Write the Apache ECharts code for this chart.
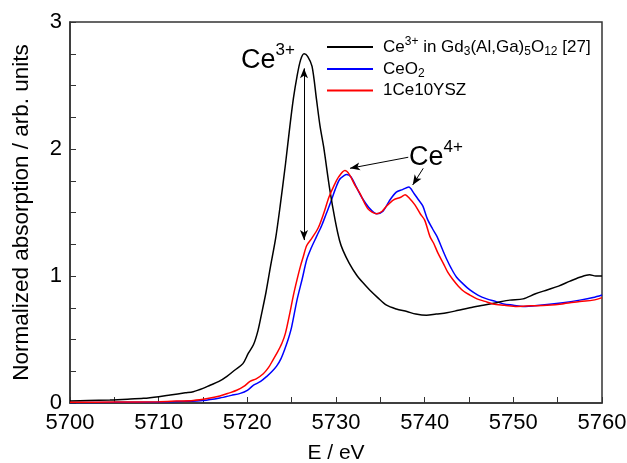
<!DOCTYPE html>
<html>
<head>
<meta charset="utf-8">
<script src="https://cdn.jsdelivr.net/npm/echarts@6/dist/echarts.min.js"></script>
<style>html,body{margin:0;padding:0;background:#fff}#c{width:627px;height:463px}</style>
</head>
<body>
<div id="c"></div>
<script>
// Ce3+ in Gd3(Al,Ga)5O12 [27]
var xBlack = [5700.0,5702,5704.5,5706.5,5708.3,5710,5711.3,5713,5713.9,5715.0,5715.8,5716.8,5717.7,5718.6,5719.5,5720.1,5720.7,5721.2,5721.6,5722.1,5722.6,5723.2,5723.7,5724.3,5724.8,5725.2,5725.6,5726.0,5726.4,5726.8,5727.3,5727.8,5728.2,5728.6,5729.3,5729.9,5730.4,5730.8,5731.5,5732.3,5733.0,5733.8,5734.7,5735.7,5736.8,5738.0,5739.0,5740.2,5741.3,5742.5,5743.8,5745.1,5746.6,5748.1,5749.6,5751.1,5752.5,5753.8,5755.1,5756.4,5757.5,5758.6,5759.3,5760];
var yBlack = [0.015,0.02,0.024,0.03,0.037,0.05,0.063,0.08,0.089,0.115,0.14,0.17,0.21,0.26,0.31,0.39,0.46,0.57,0.70,0.87,1.07,1.30,1.55,1.88,2.18,2.40,2.57,2.70,2.75,2.73,2.65,2.39,2.18,2.02,1.68,1.44,1.28,1.20,1.10,1.01,0.95,0.89,0.83,0.77,0.74,0.72,0.70,0.69,0.70,0.71,0.73,0.75,0.77,0.79,0.81,0.82,0.86,0.89,0.92,0.96,0.99,1.01,1.00,1.00];
// CeO2
var xBlue = [5700,5705,5710,5713,5715,5716.9,5718.2,5719.2,5720.0,5720.7,5721.5,5722.2,5722.8,5723.3,5723.8,5724.2,5724.6,5725.0,5725.6,5726.2,5726.7,5727.2,5727.8,5728.4,5728.9,5729.4,5729.9,5730.4,5730.9,5731.2,5731.7,5732.3,5732.9,5733.7,5734.6,5735.3,5736.0,5736.8,5737.5,5738.2,5738.8,5739.3,5739.8,5740.3,5740.9,5741.4,5742.0,5742.5,5743.0,5743.6,5744.3,5745.1,5746.0,5747.0,5748.0,5748.9,5750.0,5751.1,5753.0,5755.6,5757.5,5759.0,5760];
var yBlue = [0.003,0.005,0.008,0.013,0.02,0.04,0.06,0.076,0.10,0.14,0.17,0.21,0.25,0.29,0.35,0.42,0.50,0.60,0.81,0.98,1.13,1.22,1.31,1.40,1.49,1.58,1.68,1.76,1.79,1.80,1.78,1.70,1.62,1.54,1.49,1.51,1.59,1.66,1.68,1.70,1.65,1.60,1.55,1.45,1.37,1.31,1.21,1.13,1.06,0.99,0.94,0.89,0.85,0.82,0.80,0.78,0.77,0.76,0.77,0.79,0.81,0.83,0.85];
// 1Ce10YSZ
var xRed = [5700,5705,5710.1,5712,5713.9,5715.5,5716.9,5718.0,5718.8,5719.6,5720.3,5721.0,5721.8,5722.4,5722.9,5723.4,5723.9,5724.3,5724.8,5725.2,5725.6,5726.0,5726.3,5726.7,5727.3,5728.0,5728.6,5729.2,5729.7,5730.3,5731.0,5731.5,5732.1,5732.7,5733.6,5734.6,5735.2,5735.7,5736.5,5737.3,5737.8,5738.3,5738.9,5739.5,5740.0,5740.6,5741.0,5741.5,5742.1,5742.6,5743.2,5743.8,5744.4,5745.1,5745.9,5746.8,5747.7,5749.0,5750.4,5752.0,5753.8,5755.5,5757.5,5759.0,5760];
var yRed = [0.005,0.007,0.01,0.015,0.02,0.035,0.055,0.08,0.10,0.13,0.17,0.19,0.23,0.28,0.34,0.40,0.47,0.55,0.71,0.85,0.97,1.08,1.15,1.24,1.30,1.38,1.49,1.62,1.70,1.78,1.83,1.80,1.72,1.65,1.53,1.49,1.51,1.55,1.60,1.62,1.64,1.61,1.56,1.49,1.44,1.31,1.26,1.18,1.10,1.03,0.97,0.92,0.88,0.85,0.82,0.80,0.78,0.77,0.76,0.765,0.77,0.78,0.80,0.81,0.83];

var seriesNames = ['Ce3+ in Gd3(Al,Ga)5O12 [27]', 'CeO2', '1Ce10YSZ'];
var xTicks = [5700, 5710, 5720, 5730, 5740, 5750, 5760];
var yTicks = [0, 1, 2, 3];

function pairs(xs, ys) { return xs.map(function (x, i) { return [x, ys[i]]; }); }

var FONT = 'Liberation Sans, Arial, sans-serif';
var chart = echarts.init(document.getElementById('c'), null, {renderer: 'canvas'});

var legendRich = {
  a: {fontSize: 17, fontFamily: FONT, color: '#000', lineHeight: 22, verticalAlign: 'middle'},
  sup: {fontSize: 12, fontFamily: FONT, color: '#000', lineHeight: 22, verticalAlign: 'top', padding: [0, 0, 10, 0]},
  sub: {fontSize: 12, fontFamily: FONT, color: '#000', lineHeight: 22, verticalAlign: 'bottom', padding: [8, 0, 0, 0]}
};
var legendLabels = {};
legendLabels[seriesNames[0]] = '{a|Ce}{sup|3+}{a| in Gd}{sub|3}{a|(Al,Ga)}{sub|5}{a|O}{sub|12}{a| [27]}';
legendLabels[seriesNames[1]] = '{a|CeO}{sub|2}';
legendLabels[seriesNames[2]] = '{a|1Ce10YSZ}';

var arrowLine = {color: '#000', width: 1, type: 'solid'};

chart.setOption({
  animation: false,
  backgroundColor: '#fff',
  textStyle: {fontFamily: FONT},
  grid: {left: 70, right: 25, top: 22, bottom: 60, show: true, borderColor: '#333', borderWidth: 1.5,
         containLabel: false, outerBoundsMode: 'none'},
  legend: {
    data: seriesNames,
    orient: 'vertical',
    left: 327,
    top: 36,
    padding: 0,
    icon: 'rect',
    itemWidth: 46,
    itemHeight: 2,
    itemGap: 2,
    formatter: function (n) { return legendLabels[n]; },
    textStyle: {rich: legendRich, padding: [0, 0, 0, 5]}
  },
  xAxis: {
    type: 'value', min: 5700, max: 5760, interval: 10,
    name: 'E / eV', nameLocation: 'middle', nameGap: 40,
    nameTextStyle: {fontSize: 21, color: '#000', fontFamily: FONT},
    axisLine: {show: true, lineStyle: {color: '#333', width: 1.5}},
    axisTick: {show: true, inside: true, length: 6, lineStyle: {color: '#333'}},
    minorTick: {show: true, splitNumber: 2, length: 6, lineStyle: {color: '#333'}},
    axisLabel: {fontSize: 22, color: '#000', margin: 9, fontFamily: FONT,
      formatter: function (v) { return xTicks.indexOf(v) >= 0 ? String(v) : ''; }},
    splitLine: {show: false}
  },
  yAxis: {
    type: 'value', min: 0, max: 3, interval: 1,
    name: 'Normalized absorption / arb. units', nameLocation: 'middle', nameGap: 37,
    nameTextStyle: {fontSize: 22.5, color: '#000', fontFamily: FONT},
    axisLine: {show: true, lineStyle: {color: '#333', width: 1.5}},
    axisTick: {show: true, inside: true, length: 6, lineStyle: {color: '#333'}},
    minorTick: {show: true, splitNumber: 4, length: 6, lineStyle: {color: '#333'}},
    axisLabel: {fontSize: 22, color: '#000', margin: 8, fontFamily: FONT,
      formatter: function (v) { return yTicks.indexOf(v) >= 0 ? String(v) : ''; }},
    splitLine: {show: false}
  },
  series: [
    {
      name: seriesNames[0], type: 'line', data: pairs(xBlack, yBlack), symbol: 'none', smooth: 0.3,
      lineStyle: {color: '#000', width: 1.5}, itemStyle: {color: '#000'}, z: 3,
      markLine: {
        silent: true, symbol: ['arrow', 'arrow'], symbolSize: [6, 10], label: {show: false},
        lineStyle: arrowLine,
        data: [[{coord: [5726.39, 2.635]}, {coord: [5726.39, 1.283]}]]
      }
    },
    {
      name: seriesNames[1], type: 'line', data: pairs(xBlue, yBlue), symbol: 'none', smooth: 0.3,
      lineStyle: {color: '#0000ff', width: 1.5}, itemStyle: {color: '#0000ff'}, z: 2,
      markLine: {
        silent: true, symbol: ['none', 'arrow'], symbolSize: [6, 10], label: {show: false},
        lineStyle: arrowLine,
        data: [
          [{coord: [5738.15, 1.935]}, {coord: [5731.58, 1.848]}],
          [{coord: [5739.84, 1.848]}, {coord: [5738.65, 1.717]}]
        ]
      }
    },
    {
      name: seriesNames[2], type: 'line', data: pairs(xRed, yRed), symbol: 'none', smooth: 0.3,
      lineStyle: {color: '#ff0000', width: 1.5}, itemStyle: {color: '#ff0000'}, z: 4
    }
  ],
  graphic: [
    {type: 'text', left: 241, top: 42, style: {
      text: '{c|Ce}{s|3+}', rich: {
        c: {fontSize: 27, fontFamily: FONT, fill: '#000', lineHeight: 32, verticalAlign: 'bottom'},
        s: {fontSize: 17, fontFamily: FONT, fill: '#000', lineHeight: 32, verticalAlign: 'top'}
      }}},
    {type: 'text', left: 409, top: 139, style: {
      text: '{c|Ce}{s|4+}', rich: {
        c: {fontSize: 27, fontFamily: FONT, fill: '#000', lineHeight: 32, verticalAlign: 'bottom'},
        s: {fontSize: 17, fontFamily: FONT, fill: '#000', lineHeight: 32, verticalAlign: 'top'}
      }}}
  ]
});
</script>
</body>
</html>
